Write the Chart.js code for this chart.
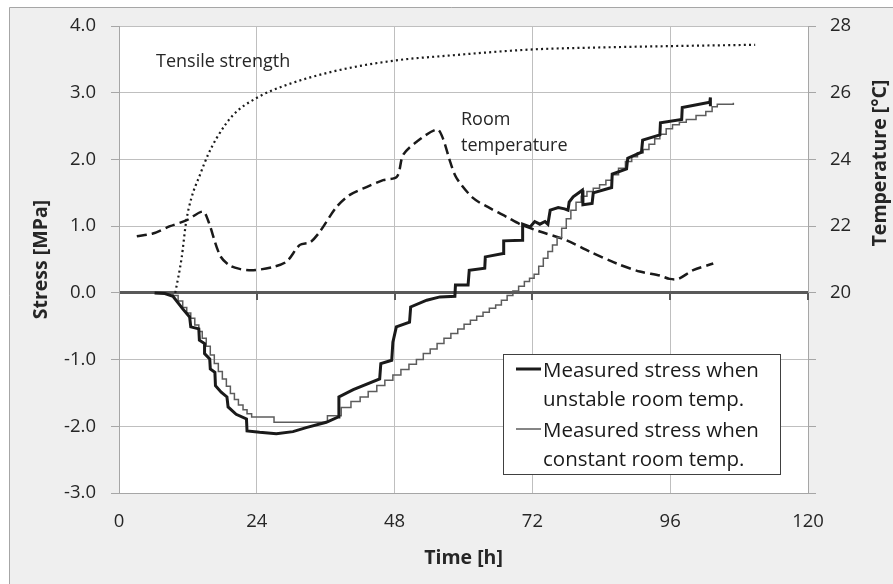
<!DOCTYPE html>
<html>
<head>
<meta charset="utf-8">
<script src="https://cdn.jsdelivr.net/npm/chart.js@4"></script>
<style>
  html, body { margin: 0; padding: 0; background: #fff; }
  canvas { display: block; }
</style>
</head>
<body>
<canvas id="stressChart" width="893" height="584"></canvas>
<script>
// tick values
var timeTicks = [0, 24, 48, 72, 96, 120];
var stressTicks = [-3, -2, -1, 0, 1, 2, 3, 4];
var tempTicks = [14, 16, 18, 20, 22, 24, 26, 28];

// measured stress, unstable room temperature (thick line)
var unstableHours = [6.2, 8.0, 9.4, 11.1, 12.3, 12.5, 13.9, 14.0, 14.9, 14.9, 15.8, 15.9, 16.7, 16.8, 17.8, 18.8, 19.0, 20.4, 22.2, 22.3,
    24.5, 27.4, 30.3, 32.6, 36.1, 38.2, 38.3, 40.8, 45.4, 45.6, 47.5, 47.7, 48.3, 50.6, 50.8, 53.6, 55.9, 58.5, 58.6, 60.8,
    61.0, 63.7, 63.8, 66.9, 67.0, 70.2, 70.3, 71.6, 72.4, 73.3, 74.2, 74.7, 75.1, 76.5, 77.6, 78.2, 78.4, 79.1, 80.7, 80.8,
    82.4, 82.6, 85.8, 85.9, 88.4, 88.6, 91.0, 91.2, 94.2, 94.3, 98.0, 98.1, 102.9, 103.0, 103.0];
var unstableMPa = [0, -0.01, -0.05, -0.24, -0.36, -0.51, -0.54, -0.71, -0.76, -0.91, -0.99, -1.14, -1.19, -1.39, -1.49, -1.56, -1.71, -1.82, -1.89, -2.07,
    -2.09, -2.11, -2.08, -2.02, -1.94, -1.86, -1.56, -1.45, -1.29, -1.06, -1.01, -0.74, -0.51, -0.44, -0.21, -0.11, -0.06, -0.05, 0.12, 0.12,
    0.34, 0.37, 0.54, 0.59, 0.78, 0.79, 1.03, 0.99, 1.07, 1.03, 1.07, 1.03, 1.24, 1.28, 1.26, 1.24, 1.36, 1.44, 1.54, 1.32,
    1.34, 1.50, 1.58, 1.78, 1.86, 2.02, 2.11, 2.29, 2.37, 2.55, 2.60, 2.78, 2.86, 2.93, 2.80];

// measured stress, constant room temperature (thin stepped line)
var constantHours = [6.2, 8.0, 9.4, 10.3, 11.1, 11.8, 12.5, 13.2, 13.9, 14.5, 15.2, 15.9, 16.6, 17.3, 18.0, 18.7, 19.4, 20.1, 20.8, 21.6,
    22.3, 23.1, 27.0, 36.3, 38.7, 40.4, 42.0, 43.4, 44.9, 46.3, 47.7, 49.1, 50.5, 51.8, 53.0, 54.2, 55.4, 56.6, 57.8, 59.0,
    60.1, 61.2, 62.3, 63.4, 64.5, 65.6, 66.6, 67.6, 68.6, 69.6, 70.6, 71.5, 72.3, 73.1, 73.9, 74.7, 75.5, 76.3, 77.1, 77.9,
    78.7, 79.6, 80.5, 81.5, 82.6, 83.7, 84.8, 85.9, 87.0, 88.2, 89.3, 90.3, 91.3, 92.3, 93.3, 94.2, 95.3, 96.4, 97.6, 98.8,
    100.5, 102.2, 103.3, 104.2, 107.0];
var constantMPa = [0, -0.01, -0.04, -0.12, -0.22, -0.30, -0.38, -0.48, -0.58, -0.68, -0.80, -0.93, -1.06, -1.18, -1.29, -1.40, -1.51, -1.60, -1.68, -1.75,
    -1.81, -1.86, -1.94, -1.84, -1.72, -1.63, -1.56, -1.48, -1.39, -1.31, -1.23, -1.15, -1.07, -1.00, -0.91, -0.84, -0.76, -0.68, -0.61, -0.54,
    -0.47, -0.41, -0.35, -0.29, -0.23, -0.18, -0.11, -0.04, 0.03, 0.10, 0.17, 0.22, 0.28, 0.40, 0.52, 0.62, 0.72, 0.83, 0.97, 1.11,
    1.24, 1.36, 1.45, 1.52, 1.57, 1.62, 1.69, 1.77, 1.87, 1.97, 2.04, 2.10, 2.15, 2.23, 2.31, 2.38, 2.46, 2.52, 2.56, 2.60,
    2.66, 2.72, 2.79, 2.83, 2.85];

// tensile strength (dotted)
var tensileHours = [9.8, 10.9, 11.7, 12.6, 14.1, 15.5, 17.0, 19.9, 23.9, 28.6, 37.3, 47.7, 57.7, 72.0, 84.0, 96.0, 110.8];
var tensileMPa = [0, 0.52, 1.07, 1.42, 1.77, 2.07, 2.32, 2.67, 2.92, 3.10, 3.32, 3.48, 3.56, 3.65, 3.68, 3.70, 3.72];

// room temperature (dashed, right axis)
var roomHours = [3.1, 5.9, 8.9, 11.8, 14.6, 15.5, 17.6, 19.3, 21.0, 23.4, 26.9, 29.2, 31.5, 33.3, 35.0, 37.9, 40.2, 43.2, 46.0, 48.4,
    49.5, 51.9, 55.4, 56.4, 57.7, 58.8, 61.7, 64.6, 67.5, 70.1, 73.3, 77.9, 82.0, 86.7, 90.7, 94.2, 95.9, 97.4, 100.0, 103.5];
var roomTempC = [21.70, 21.78, 22.00, 22.18, 22.44, 22.18, 21.12, 20.82, 20.72, 20.68, 20.78, 20.94, 21.44, 21.52, 21.84, 22.58, 22.94, 23.18, 23.38, 23.48,
    24.14, 24.54, 24.90, 24.64, 23.92, 23.44, 22.84, 22.54, 22.28, 22.04, 21.84, 21.58, 21.24, 20.88, 20.64, 20.52, 20.42, 20.42, 20.68, 20.88];

function zip(xs, ys) {
    return xs.map(function (x, i) { return { x: x, y: ys[i] }; });
}

var TEXT = '#262626';
var GRID = '#bfbfbf';
var AXIS = '#a6a6a6';

Chart.defaults.font.family = '"Open Sans", sans-serif';
Chart.defaults.color = TEXT;

// background frame, zero-line ticks, notes, legend, right title
var chartDecor = {
    id: 'chartDecor',
    beforeDraw: function (chart) {
        var ctx = chart.ctx, a = chart.chartArea;
        ctx.save();
        ctx.fillStyle = '#ffffff';
        ctx.fillRect(0, 0, chart.width, chart.height);
        ctx.fillStyle = '#efefef';
        ctx.fillRect(9, 7, chart.width - 9, chart.height - 7);
        ctx.strokeStyle = AXIS;
        ctx.lineWidth = 1;
        ctx.beginPath();
        ctx.moveTo(9.5, chart.height);
        ctx.lineTo(9.5, 7.5);
        ctx.lineTo(chart.width, 7.5);
        ctx.stroke();
        ctx.fillStyle = '#ffffff';
        ctx.fillRect(a.left, a.top, a.right - a.left, a.bottom - a.top);
        ctx.restore();
    },
    beforeDatasetsDraw: function (chart) {
        var ctx = chart.ctx;
        var y0 = chart.scales.y.getPixelForValue(0);
        ctx.save();
        ctx.strokeStyle = '#595959';
        ctx.lineWidth = 2;
        timeTicks.forEach(function (t) {
            if (t === 0) return;
            var px = Math.round(chart.scales.x.getPixelForValue(t));
            ctx.beginPath();
            ctx.moveTo(px, y0);
            ctx.lineTo(px, y0 + 7);
            ctx.stroke();
        });
        ctx.restore();
    },
    afterDraw: function (chart) {
        var ctx = chart.ctx;
        var ds = chart.data.datasets;
        ctx.save();

        // notes on the curves
        ctx.fillStyle = TEXT;
        ctx.font = '18px "Open Sans"';
        ctx.textAlign = 'left';
        ctx.textBaseline = 'alphabetic';
        ctx.fillText('Tensile strength', 156, 67);
        ctx.fillText('Room', 461, 125);
        ctx.fillText('temperature', 461, 151);

        // legend box
        ctx.fillStyle = '#ffffff';
        ctx.fillRect(503, 354, 277, 120);
        ctx.strokeStyle = '#404040';
        ctx.lineWidth = 1;
        ctx.strokeRect(503.5, 354.5, 277, 120);

        var items = [
            { ds: ds[0], lineY: 369, lines: ['Measured stress when', 'unstable room temp.'], base: 377 },
            { ds: ds[1], lineY: 429, lines: ['Measured stress when', 'constant room temp.'], base: 437 }
        ];
        items.forEach(function (it) {
            ctx.strokeStyle = it.ds.borderColor;
            ctx.lineWidth = it.ds.borderWidth;
            ctx.beginPath();
            ctx.moveTo(516, it.lineY);
            ctx.lineTo(541, it.lineY);
            ctx.stroke();
            ctx.fillStyle = '#1a1a1a';
            ctx.font = '20.5px "Open Sans"';
            ctx.fillText(it.lines[0], 543, it.base);
            ctx.fillText(it.lines[1], 543, it.base + 29);
        });

        // right axis title, centred on the labelled part of the axis
        ctx.translate(880, 163);
        ctx.rotate(-Math.PI / 2);
        ctx.fillStyle = TEXT;
        ctx.font = 'bold 19.5px "Open Sans"';
        ctx.textAlign = 'center';
        ctx.textBaseline = 'middle';
        ctx.fillText('Temperature [°C]', 0, 0);
        ctx.restore();
    }
};

new Chart(document.getElementById('stressChart'), {
    type: 'line',
    data: {
        datasets: [
            {
                label: 'Measured stress when unstable room temp.',
                data: zip(unstableHours, unstableMPa),
                borderColor: '#1a1a1a',
                borderWidth: 3,
                pointRadius: 0,
                tension: 0,
                yAxisID: 'y'
            },
            {
                label: 'Measured stress when constant room temp.',
                data: zip(constantHours, constantMPa),
                borderColor: '#5c5c5c',
                borderWidth: 1.5,
                pointRadius: 0,
                stepped: true,
                yAxisID: 'y'
            },
            {
                label: 'Tensile strength',
                data: zip(tensileHours, tensileMPa),
                borderColor: '#1a1a1a',
                borderWidth: 2.2,
                borderDash: [2, 3.2],
                pointRadius: 0,
                cubicInterpolationMode: 'monotone',
                yAxisID: 'y'
            },
            {
                label: 'Room temperature',
                data: zip(roomHours, roomTempC),
                borderColor: '#1a1a1a',
                borderWidth: 2.5,
                borderDash: [10, 5],
                pointRadius: 0,
                tension: 0.3,
                yAxisID: 'yT'
            }
        ]
    },
    options: {
        responsive: false,
        animation: false,
        layout: { padding: 0 },
        plugins: {
            legend: { display: false },
            tooltip: { enabled: false }
        },
        scales: {
            x: {
                type: 'linear',
                min: 0,
                max: 120,
                afterBuildTicks: function (s) { s.ticks = timeTicks.map(function (v) { return { value: v }; }); },
                afterFit: function (s) { s.height = 91; },
                grid: { color: GRID, drawTicks: false },
                border: { color: AXIS },
                ticks: { padding: 18, font: { size: 18.5 }, color: TEXT },
                title: {
                    display: true,
                    text: 'Time [h]',
                    font: { size: 19.5, weight: 'bold' },
                    color: TEXT,
                    padding: { top: 0, bottom: 14 }
                }
            },
            y: {
                position: 'left',
                min: -3,
                max: 4,
                afterBuildTicks: function (s) { s.ticks = stressTicks.map(function (v) { return { value: v }; }); },
                afterFit: function (s) { s.width = 119; },
                grid: {
                    color: function (c) { return c.tick && c.tick.value === 0 ? '#595959' : GRID; },
                    lineWidth: function (c) { return c.tick && c.tick.value === 0 ? 3 : 1; },
                    tickColor: AXIS,
                    tickWidth: 1,
                    tickLength: 8
                },
                border: { color: AXIS },
                ticks: {
                    padding: 15,
                    font: { size: 18.5 },
                    color: TEXT,
                    callback: function (v) { return v.toFixed(1); }
                },
                title: {
                    display: true,
                    text: 'Stress [MPa]',
                    font: { size: 19.5, weight: 'bold' },
                    color: TEXT,
                    padding: { top: 30, bottom: 0 }
                }
            },
            yT: {
                position: 'right',
                min: 14,
                max: 28,
                afterBuildTicks: function (s) { s.ticks = tempTicks.map(function (v) { return { value: v }; }); },
                afterFit: function (s) { s.width = 85; },
                grid: { drawOnChartArea: false, color: AXIS, tickLength: 8 },
                border: { color: AXIS },
                ticks: {
                    padding: 14,
                    font: { size: 18.5 },
                    color: TEXT,
                    callback: function (v) { return v >= 20 ? String(v) : ''; }
                }
            }
        }
    },
    plugins: [chartDecor]
});
</script>
</body>
</html>
